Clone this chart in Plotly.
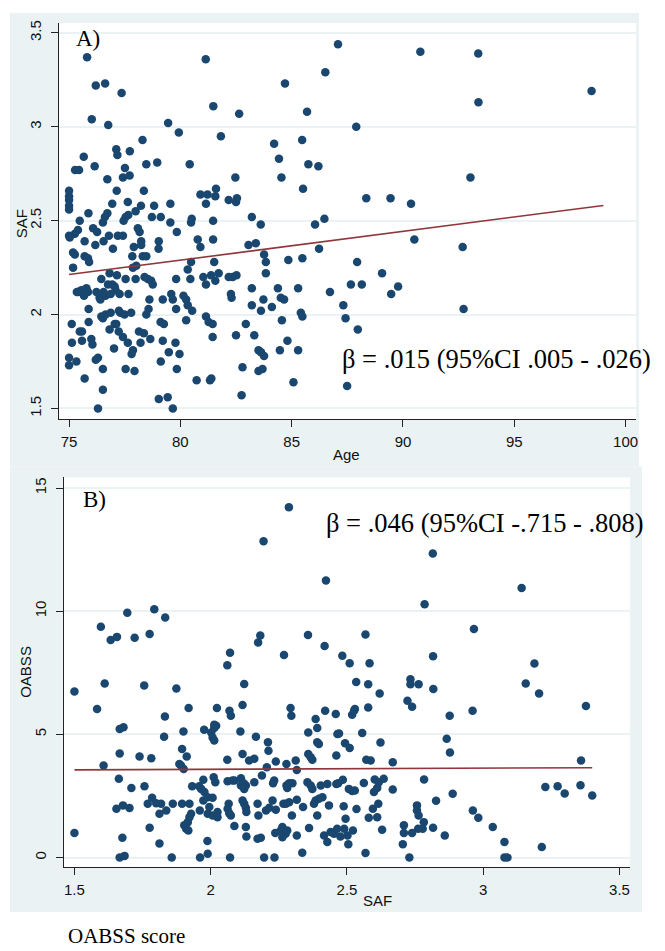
import plotly.graph_objects as go

# ---------------- Panel A data: Age vs SAF ----------------
age_a = [75.81, 76.20, 76.62, 77.36, 76.02, 76.76, 79.45, 79.93, 81.14, 81.48, 82.64, 81.82, 84.70, 86.51, 87.08,
         85.69, 84.21, 85.47, 84.43, 85.75, 86.20, 84.54, 85.51, 86.05, 86.47, 83.21, 83.61, 82.47, 82.17, 82.54,
         82.50, 80.90, 81.22, 81.60, 81.57, 81.15, 80.51, 80.48, 81.47, 80.78, 81.47, 80.42, 78.96, 78.47, 78.30,
         77.73, 77.12, 77.17, 75.66, 75.27, 75.45, 76.15, 77.51, 76.72, 77.42, 77.72, 75.0, 75.0, 75.0, 75.0, 75.0,
         75.87, 75.48, 77.14, 76.94, 77.64, 78.36, 78.23, 77.99, 77.66, 77.54, 77.45, 76.72, 76.61, 76.52, 78.82,
         79.55, 78.72, 79.12, 79.55, 79.84, 78.09, 78.17, 75.40, 75.26, 75.0, 75.03, 76.08, 76.26, 76.79, 77.19,
         77.42, 75.70, 76.55, 78.24, 79.03,
         76.18, 76.97, 77.91, 78.24, 79.02, 80.90, 83.06, 83.39, 83.76, 83.84, 83.84, 84.85, 85.48, 86.23, 86.72,
         75.18, 75.26, 75.70, 75.85, 75.90, 75.18, 77.84, 78.02, 77.87, 78.31, 78.47, 80.48, 80.33, 80.45, 81.52,
         76.45, 76.82, 77.15, 77.54, 77.99, 78.39, 78.54, 78.69, 78.76, 79.81, 81.03, 81.15, 81.38, 81.57, 81.72,
         82.17, 82.35, 82.52, 83.21, 84.38, 84.51, 84.66, 85.29, 83.73, 83.62, 84.11, 83.21, 85.41, 85.48, 84.56,
         82.27, 82.30, 81.15, 81.27, 81.45, 81.45, 82.50, 82.94, 83.32, 83.51, 83.62, 83.76, 84.81, 84.47, 85.29,
         83.51, 83.69, 82.79, 85.08, 82.75, 80.26, 80.14, 80.33, 80.53, 80.26, 79.59, 79.66, 79.21, 79.81, 78.61,
         78.57, 78.47, 79.11, 79.26, 79.21, 79.78, 79.48, 79.96, 79.12, 79.84, 80.73, 81.33, 81.39, 79.03, 79.43,
         79.66, 76.30, 76.52, 75.70, 76.20, 76.30, 76.52, 75.0, 75.0, 75.33, 75.13, 75.58, 76.00, 76.05, 75.12,
         75.48, 75.58, 75.88, 75.88, 75.40, 75.55, 75.67, 75.78, 75.85, 75.35, 76.23, 76.37, 76.41, 76.55, 76.64,
         76.75, 76.94, 77.05, 77.09, 76.45, 76.52, 76.64, 76.87, 76.82, 77.05, 77.12, 77.23, 77.24, 77.30, 77.49,
         77.79, 77.42, 77.64, 77.87, 77.81, 77.02, 77.54, 77.94, 78.14, 78.36, 78.65, 78.21, 76.87, 77.27, 77.67,
         90.78, 93.38, 98.47, 93.39, 87.90, 93.03, 88.35, 89.44, 90.36, 90.51, 92.68, 87.94, 89.06, 87.66, 88.15,
         89.47, 89.78, 87.32, 87.42, 87.97, 92.72, 87.49]
saf_a = [3.37, 3.22, 3.23, 3.18, 3.04, 3.01, 3.02, 2.97, 3.36, 3.11, 3.07, 2.95, 3.23, 3.29, 3.44,
         3.08, 2.91, 2.93, 2.83, 2.80, 2.79, 2.73, 2.67, 2.48, 2.51, 2.52, 2.48, 2.73, 2.61, 2.62,
         2.60, 2.64, 2.64, 2.67, 2.63, 2.59, 2.51, 2.49, 2.50, 2.40, 2.40, 2.80, 2.81, 2.80, 2.93,
         2.87, 2.88, 2.85, 2.84, 2.77, 2.77, 2.79, 2.78, 2.72, 2.73, 2.74, 2.66, 2.63, 2.61, 2.58, 2.56,
         2.54, 2.50, 2.66, 2.59, 2.60, 2.66, 2.58, 2.55, 2.53, 2.52, 2.50, 2.54, 2.52, 2.49, 2.58,
         2.59, 2.52, 2.52, 2.49, 2.44, 2.46, 2.44, 2.45, 2.43, 2.42, 2.41, 2.46, 2.44, 2.42, 2.42,
         2.42, 2.39, 2.39, 2.39, 2.39,
         2.37, 2.35, 2.36, 2.37, 2.35, 2.36, 2.37, 2.38, 2.32, 2.28, 2.22, 2.29, 2.30, 2.35, 2.12,
         2.33, 2.32, 2.31, 2.30, 2.28, 2.25, 2.31, 2.26, 2.25, 2.31, 2.31, 2.28, 2.24, 2.19, 2.28,
         2.19, 2.22, 2.21, 2.19, 2.19, 2.20, 2.19, 2.18, 2.16, 2.19, 2.20, 2.16, 2.21, 2.18, 2.22,
         2.20, 2.20, 2.21, 2.14, 2.14, 2.09, 2.08, 2.14, 2.08, 2.02, 2.04, 2.05, 2.01, 1.99, 1.97,
         2.11, 2.09, 1.99, 1.96, 1.95, 1.88, 1.89, 1.95, 1.89, 1.81, 1.80, 1.78, 1.86, 1.81, 1.81,
         1.70, 1.71, 1.72, 1.64, 1.57, 2.08, 2.10, 2.05, 2.02, 1.97, 2.11, 2.08, 2.08, 2.03, 2.08,
         2.03, 2.00, 1.96, 1.95, 1.86, 1.85, 1.80, 1.79, 1.75, 1.71, 1.65, 1.65, 1.66, 1.55, 1.56,
         1.50, 1.50, 1.60, 1.66, 1.76, 1.77, 1.71, 1.77, 1.73, 1.75, 1.85, 1.86, 1.87, 1.84, 1.95,
         1.91, 1.91, 1.96, 2.03, 2.12, 2.13, 2.10, 2.14, 2.12, 2.12, 2.12, 2.09, 2.08, 2.12, 2.10,
         2.16, 2.16, 2.15, 2.13, 1.99, 1.98, 2.00, 2.01, 1.92, 1.95, 1.95, 1.91, 2.02, 2.01, 2.00,
         2.01, 1.88, 1.85, 1.81, 1.79, 1.82, 1.71, 1.70, 1.91, 1.90, 1.87, 1.85, 2.11, 2.11, 2.11,
         3.40, 3.39, 3.19, 3.13, 3.00, 2.73, 2.62, 2.62, 2.59, 2.40, 2.36, 2.28, 2.22, 2.16, 2.16,
         2.11, 2.15, 2.05, 1.98, 1.92, 2.03, 1.62]
fit_a_x = [75, 99]
fit_a_y = [2.213, 2.581]

# ---------------- Panel B data: SAF vs OABSS ----------------
saf_b = [1.500, 1.583, 1.597, 1.611, 1.633, 1.656, 1.694, 1.721, 1.756, 1.776, 1.793, 1.833, 1.874, 1.919, 2.023,
         2.069, 2.061, 2.071, 2.117, 2.123, 2.174, 2.182, 2.194, 2.287, 2.269, 2.293, 2.357, 2.423, 2.418,
         2.815, 3.141, 2.785, 2.966, 2.568, 2.483, 2.510, 2.583, 2.816, 3.188, 2.534, 2.578, 2.620, 2.733, 2.733,
         2.763, 2.817, 3.156, 3.205, 2.722, 2.739, 2.529, 2.578, 2.961, 3.377,
         1.500, 1.607, 1.666, 1.680, 1.666, 1.663, 1.654, 1.678, 1.702, 1.676, 1.666, 1.684, 1.709, 1.739, 1.782,
         1.757, 1.769, 1.785, 1.800, 1.818, 1.837, 1.861, 1.812, 1.776, 1.812, 1.857, 1.829, 1.832, 1.900, 1.895,
         1.885, 1.891, 1.901, 1.912, 1.895, 1.922, 1.928, 1.922, 1.916, 1.903, 1.910, 1.918, 1.932, 1.958, 1.965,
         1.960, 1.961, 1.989, 1.988, 1.976, 1.973, 1.977, 1.973, 1.989, 1.995, 1.989, 2.007, 2.007, 2.025, 2.025,
         2.011, 2.017, 2.002, 2.007, 2.013, 2.020, 2.013, 2.013, 2.074, 2.061, 2.062, 2.080, 2.087, 2.066, 2.062,
         2.068, 2.074, 2.087, 2.071, 2.109, 2.117, 2.111, 2.111, 2.123, 2.129, 2.121, 2.117, 2.123, 2.129, 2.131,
         2.129, 2.131, 2.141, 2.160, 2.160, 2.166, 2.172, 2.175, 2.172, 2.184, 2.196, 2.234, 2.210, 2.212, 2.206,
         2.188, 2.203, 2.215, 2.239, 2.227, 2.233, 2.229, 2.239, 2.237, 2.257, 2.263, 2.269, 2.275, 2.281, 2.263,
         2.267, 2.276, 2.288, 2.278, 2.296, 2.278, 2.288, 2.300, 2.281, 2.312, 2.316, 2.298, 2.316, 2.316, 2.336,
         2.339, 2.358, 2.391, 2.385, 2.420, 2.459, 2.391, 2.397, 2.358, 2.367, 2.373, 2.355, 2.367, 2.373, 2.404,
         2.428, 2.379, 2.385, 2.397, 2.410, 2.391, 2.434, 2.361, 2.416, 2.428, 2.440, 2.452, 2.464, 2.461, 2.465,
         2.461,
         2.519, 2.526, 2.877, 2.471, 2.556, 2.493, 2.510, 2.623, 2.866, 2.878, 2.571, 2.587, 2.668, 3.359, 2.468,
         2.485, 2.507, 2.519, 2.529, 2.562, 2.602, 2.617, 2.611, 2.599, 2.635, 2.668, 2.783, 2.888, 2.827, 3.228,
         3.273, 3.299, 3.357, 3.400, 2.488, 2.535, 2.595, 2.615, 2.495, 2.580, 2.611, 2.757, 2.757, 2.763, 2.782,
         2.778, 2.761, 2.739, 2.709, 2.709, 2.705, 2.816, 2.859, 2.962, 2.982, 3.035, 3.078, 3.078, 3.089, 3.215,
         2.729, 2.568, 2.629, 2.476, 2.490, 2.502, 2.522, 2.505]
oabss_b = [6.74, 6.03, 9.37, 7.07, 8.83, 8.96, 9.94, 8.92, 6.99, 9.08, 10.08, 9.75, 6.86, 6.07, 6.07,
           5.96, 7.81, 8.32, 6.19, 7.05, 8.73, 9.02, 12.84, 14.22, 8.22, 6.07, 9.04, 11.25, 8.59,
           12.34, 10.94, 10.28, 9.28, 9.06, 8.19, 7.89, 7.89, 8.17, 7.88, 7.13, 7.04, 6.66, 7.24, 7.04,
           7.04, 6.84, 7.07, 6.66, 6.37, 6.12, 6.03, 6.09, 5.96, 6.15,
           1.00, 3.74, 5.22, 5.29, 4.23, 3.20, 1.98, 2.12, 2.01, 0.81, 0.00, 0.07, 2.83, 4.10, 4.03,
           2.90, 2.19, 2.43, 2.21, 2.19, 1.91, 2.19, 1.78, 1.21, 0.57, 0.00, 4.91, 5.73, 5.12, 4.41,
           3.80, 3.74, 3.60, 4.10, 2.19, 2.19, 1.78, 1.64, 1.44, 1.31, 1.17, 1.10, 2.90, 2.90, 2.79,
           1.91, 0.00, 0.16, 0.67, 5.19, 3.16, 2.66, 2.32, 2.45, 2.05, 1.78, 2.43, 1.71, 1.64, 1.85,
           3.26, 3.06, 5.08, 4.88, 4.75, 5.35, 5.26, 5.39, 5.76, 3.97, 3.10, 3.13, 3.13, 2.19, 1.98,
           1.80, 1.71, 1.28, 0.00, 5.12, 4.21, 3.22, 2.93, 2.79, 2.93, 3.02, 2.32, 2.19, 2.02, 1.85,
           1.24, 0.86, 3.94, 4.01, 3.06, 4.91, 2.19, 1.71, 0.77, 0.81, 0.00, 0.00, 4.68, 4.34, 3.67,
           3.33, 1.91, 2.02, 1.94, 2.32, 3.13, 3.02, 3.90, 1.00, 1.10, 1.24, 1.04, 0.97, 1.10, 0.83,
           2.19, 2.19, 2.25, 3.80, 5.76, 2.93, 3.02, 3.02, 2.83, 3.94, 3.56, 1.71, 2.35, 0.90, 0.20,
           2.05, 5.08, 5.26, 5.63, 5.96, 5.83, 4.68, 4.61, 4.21, 4.07, 3.97, 3.06, 2.93, 2.79, 2.93,
           2.99, 2.19, 2.32, 2.39, 2.45, 1.71, 2.12, 1.20, 0.90, 0.63, 1.04, 0.97, 1.17, 4.14, 5.02,
           2.99,
           5.80, 5.96, 5.76, 5.04, 5.06, 4.64, 4.45, 4.67, 4.82, 4.27, 3.97, 3.94, 3.87, 3.94, 3.02,
           3.16, 2.79, 2.70, 2.72, 3.03, 3.17, 3.06, 2.83, 2.66, 3.20, 2.76, 3.17, 2.59, 2.31, 2.87,
           2.90, 2.60, 2.94, 2.52, 2.08, 1.97, 1.98, 2.19, 1.58, 1.62, 1.64, 2.12, 1.91, 1.71, 1.44,
           1.17, 1.17, 1.00, 1.31, 1.00, 0.54, 1.21, 0.90, 1.91, 1.62, 1.24, 0.63, 0.00, 0.00, 0.43,
           0.00, 0.19, 1.13, 0.86, 1.17, 0.90, 1.10, 0.54]
fit_b_x = [1.5, 3.4]
fit_b_y = [3.56, 3.65]

ticks_a_x = [75, 80, 85, 90, 95, 100]
ticks_a_y = [1.5, 2, 2.5, 3, 3.5]
ticks_b_x = [1.5, 2, 2.5, 3, 3.5]
ticks_b_y = [0, 5, 10, 15]

W, H = 665, 951
NAVY = "#1A476F"
MAROON = "#90353B"
BG = "#EAF2F3"
SANS = "Liberation Sans, Arial, sans-serif"
SERIF = "Liberation Serif, Times New Roman, serif"


def px(x):
    return x / W


def py(y):
    return 1 - y / H


fig = go.Figure()
fig.add_trace(go.Scatter(x=age_a, y=saf_a, mode="markers", xaxis="x", yaxis="y",
                         marker=dict(color=NAVY, size=8.5, line=dict(width=0)), showlegend=False))
fig.add_trace(go.Scatter(x=fit_a_x, y=fit_a_y, mode="lines", xaxis="x", yaxis="y",
                         line=dict(color=MAROON, width=1.6), showlegend=False))
fig.add_trace(go.Scatter(x=saf_b, y=oabss_b, mode="markers", xaxis="x2", yaxis="y2",
                         marker=dict(color=NAVY, size=8.5, line=dict(width=0)), showlegend=False))
fig.add_trace(go.Scatter(x=fit_b_x, y=fit_b_y, mode="lines", xaxis="x2", yaxis="y2",
                         line=dict(color=MAROON, width=1.6), showlegend=False))

axis_common = dict(showline=True, linecolor="#222", linewidth=1, ticks="outside", ticklen=7,
                   tickcolor="#222", tickwidth=1, zeroline=False,
                   tickfont=dict(family=SANS, size=15, color="#111"))


def fmt(v):
    return "%g" % v


fig.update_layout(
    width=W, height=H, margin=dict(l=0, r=0, t=0, b=0),
    paper_bgcolor="white", plot_bgcolor="white",
    xaxis=dict(domain=[px(59), px(638)], range=[74.54, 100.47], anchor="y",
               tickvals=ticks_a_x, ticktext=[fmt(v) for v in ticks_a_x], showgrid=False,
               ticklabelstandoff=2, **axis_common),
    yaxis=dict(domain=[py(417.3), py(20)], range=[1.444, 3.553], anchor="x",
               tickvals=ticks_a_y, ticktext=[fmt(v) for v in ticks_a_y],
               tickangle=-90, showgrid=True, gridcolor=BG, gridwidth=1.5,
               ticklabelstandoff=4, **axis_common),
    xaxis2=dict(domain=[px(64), px(632)], range=[1.461, 3.539], anchor="y2",
                tickvals=ticks_b_x, ticktext=[fmt(v) for v in ticks_b_x], showgrid=False,
                ticklabelstandoff=2, **axis_common),
    yaxis2=dict(domain=[py(866.7), py(476)], range=[-0.38, 15.43], anchor="x2",
                tickvals=ticks_b_y, ticktext=[fmt(v) for v in ticks_b_y], tickangle=-90,
                showgrid=True, gridcolor=BG, gridwidth=1.5, ticklabelstandoff=4, **axis_common),
    shapes=[
        dict(type="rect", xref="paper", yref="paper", x0=px(10), x1=px(641), y0=py(465), y1=py(10),
             fillcolor=BG, line=dict(width=0), layer="below"),
        dict(type="rect", xref="paper", yref="paper", x0=px(10), x1=px(644), y0=py(912), y1=py(465),
             fillcolor=BG, line=dict(width=0), layer="below"),
        dict(type="rect", xref="paper", yref="paper", x0=px(59), x1=px(638), y0=py(417.3), y1=py(20),
             fillcolor="white", line=dict(width=0), layer="below"),
        dict(type="rect", xref="paper", yref="paper", x0=px(64), x1=px(632), y0=py(866.7), y1=py(476),
             fillcolor="white", line=dict(width=0), layer="below"),
    ],
)

ann = []
# axis titles
ann.append(dict(text="SAF", x=px(21), y=py(221), textangle=-90, font=dict(family=SANS, size=15, color="#111")))
ann.append(dict(text="Age", x=px(348), y=py(453), font=dict(family=SANS, size=15, color="#111")))
ann.append(dict(text="OABSS", x=px(26), y=py(671), textangle=-90, font=dict(family=SANS, size=15, color="#111")))
ann.append(dict(text="SAF", x=px(379), y=py(900), font=dict(family=SANS, size=15, color="#111")))
# panel labels and stats
ann.append(dict(text="A)", x=px(88), y=py(36), font=dict(family=SERIF, size=23, color="#000")))
ann.append(dict(text="B)", x=px(95), y=py(498), font=dict(family=SERIF, size=23, color="#000")))
ann.append(dict(text="β = .015 (95%CI .005 - .026)", x=px(498), y=py(357),
                font=dict(family=SERIF, size=26.5, color="#000")))
ann.append(dict(text="β = .046 (95%CI -.715 - .808)", x=px(486), y=py(522),
                font=dict(family=SERIF, size=26.5, color="#000")))
ann.append(dict(text="OABSS score", x=px(127), y=py(936), font=dict(family=SERIF, size=21, color="#000")))
for a in ann:
    a.update(xref="paper", yref="paper", showarrow=False, xanchor="center", yanchor="middle")
fig.update_layout(annotations=ann)

fig.write_html("out.html", config={"displayModeBar": False},
               post_script="document.body.style.margin='0';document.body.style.overflow='hidden';")
